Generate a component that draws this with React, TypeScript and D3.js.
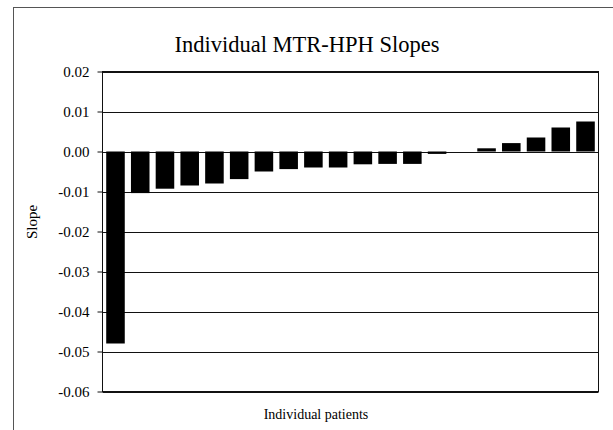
import { useEffect, useRef } from "react";
import * as d3 from "d3";

// one bar per patient, sorted by slope
const patients = [
    'P1', 'P2', 'P3', 'P4', 'P5', 'P6', 'P7', 'P8', 'P9', 'P10',
    'P11', 'P12', 'P13', 'P14', 'P15', 'P16', 'P17', 'P18', 'P19', 'P20',
]
const slopes = [
    -0.048, -0.0104, -0.0093, -0.0085, -0.008, -0.0069, -0.005, -0.0044, -0.004, -0.004,
    -0.0032, -0.0031, -0.0031, -0.0006, 0, 0.0008, 0.0021, 0.0035, 0.006, 0.0075,
]
const yTicks = [0.02, 0.01, 0, -0.01, -0.02, -0.03, -0.04, -0.05, -0.06]
const yTickLabels = ['0.02', '0.01', '0.00', '-0.01', '-0.02', '-0.03', '-0.04', '-0.05', '-0.06']

const title = 'Individual MTR-HPH Slopes'
const xTitle = 'Individual patients'
const yTitle = 'Slope'

export default function App() {
    const wSVG = 613;
    const hSVG = 430;
    const svgRef = useRef<SVGSVGElement | null>(null);

    // plot area, pixels
    const plot = { left: 102.5, right: 598.5, top: 71.5, bottom: 391.5 }
    const font = 'Liberation Serif, Tinos, DejaVu Serif, serif'

    useEffect(() => {
        const svg = d3.select(svgRef.current)
        svg.selectAll('*').remove()
        svg.attr('font-family', font)

        const xScale = d3.scaleBand<string>()
            .domain(patients)
            .range([plot.left, plot.right])
            .paddingInner(0.25)
            .paddingOuter(0.15)
        const yScale = d3.scaleLinear()
            .domain([-0.06, 0.02])
            .range([plot.bottom, plot.top])

        // outer chart frame (runs off the picture on the right and bottom)
        svg.append('rect')
            .attr('x', 13.5)
            .attr('y', 7.5)
            .attr('width', 640)
            .attr('height', 460)
            .attr('fill', 'white')
            .attr('stroke', '#555')
            .attr('stroke-width', 1)

        svg.append('text')
            .attr('x', 307)
            .attr('y', 52)
            .attr('text-anchor', 'middle')
            .attr('font-family', font)
            .attr('font-size', 22.5)
            .text(title)

        // gridlines
        svg.append('g')
            .selectAll('line')
            .data(yTicks)
            .join('line')
            .attr('x1', plot.left)
            .attr('x2', plot.right)
            .attr('y1', d => Math.round(yScale(d)) + 0.5)
            .attr('y2', d => Math.round(yScale(d)) + 0.5)
            .attr('stroke', '#111')
            .attr('stroke-width', 1)

        // bars
        svg.append('g')
            .selectAll('rect')
            .data(slopes)
            .join('rect')
            .attr('x', (_, i) => xScale(patients[i]) ?? 0)
            .attr('width', xScale.bandwidth())
            .attr('y', d => yScale(Math.max(0, d)))
            .attr('height', d => Math.abs(yScale(d) - yScale(0)))
            .attr('fill', '#000')

        // plot border
        svg.append('rect')
            .attr('x', plot.left)
            .attr('y', plot.top)
            .attr('width', plot.right - plot.left)
            .attr('height', plot.bottom - plot.top)
            .attr('fill', 'none')
            .attr('stroke', '#111')
            .attr('stroke-width', 1)

        // y axis with tick labels from the list
        const yAxis = d3.axisLeft(yScale)
            .tickValues(yTicks)
            .tickSize(5)
            .tickPadding(8)
            .tickFormat((_, i) => yTickLabels[i])
        const gy = svg.append('g')
            .attr('transform', `translate(${plot.left},0)`)
            .call(yAxis)
            .attr('font-family', font)
            .attr('font-size', 15)
        gy.select('.domain').remove()
        gy.selectAll('line').attr('stroke', '#111')
        gy.selectAll('text').attr('fill', '#000')

        svg.append('text')
            .attr('x', 316)
            .attr('y', 419)
            .attr('text-anchor', 'middle')
            .attr('font-family', font)
            .attr('font-size', 14)
            .text(xTitle)

        svg.append('text')
            .attr('transform', `translate(37, 222) rotate(-90)`)
            .attr('text-anchor', 'middle')
            .attr('font-family', font)
            .attr('font-size', 15)
            .text(yTitle)
    }, []);

    return (
        <svg
            ref={svgRef}
            width={wSVG}
            height={hSVG}
            style={{ position: 'absolute', left: 0, top: 0, background: 'white' }}
        />
    )
}
